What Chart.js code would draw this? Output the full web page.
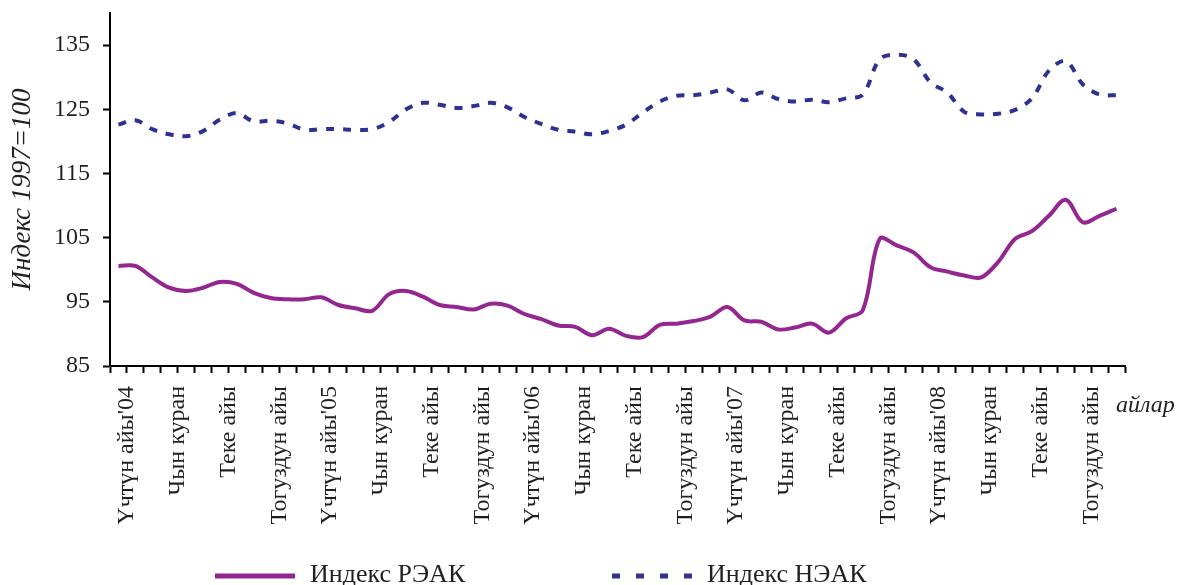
<!DOCTYPE html>
<html lang="ky">
<head>
<meta charset="utf-8">
<title>Индекс РЭАК жана НЭАК</title>
<script src="https://cdn.jsdelivr.net/npm/chart.js@4.4.1/dist/chart.umd.min.js"></script>
<style>
    html, body { margin: 0; padding: 0; background: #fff; }
    #wrap { width: 1181px; height: 585px; }
</style>
</head>
<body>
<div id="wrap"><canvas id="chartfield" width="1181" height="585"></canvas></div>
<script>
// quarter names shown under the axis (one every three months, Jan 2004 - Oct 2008)
const quarterLabels = [
    "Үчтүн айы'04", "Чын куран", "Теке айы", "Тогуздун айы",
    "Үчтүн айы'05", "Чын куран", "Теке айы", "Тогуздун айы",
    "Үчтүн айы'06", "Чын куран", "Теке айы", "Тогуздун айы",
    "Үчтүн айы'07", "Чын куран", "Теке айы", "Тогуздун айы",
    "Үчтүн айы'08", "Чын куран", "Теке айы", "Тогуздун айы",
];

// monthly index values, 1997 = 100
const reak = [
    100.6, 100.6, 98.8, 97.2, 96.7, 97.2, 98.1, 97.8, 96.4, 95.6,
    95.4, 95.4, 95.7, 94.5, 94.0, 93.6, 96.2, 96.7, 95.8, 94.5,
    94.2, 93.8, 94.7, 94.4, 93.1, 92.3, 91.3, 91.1, 89.8, 90.8,
    89.7, 89.5, 91.4, 91.6, 92.0, 92.7, 94.2, 92.1, 91.9, 90.7,
    91.0, 91.6, 90.2, 92.4, 93.7, 104.8, 103.8, 102.7, 100.4, 99.7,
    99.1, 98.8, 101.2, 104.8, 106.0, 108.4, 110.9, 107.4, 108.4, 109.5,
];
const neak = [
    122.6, 123.3, 121.9, 121.1, 120.8, 121.6, 123.4, 124.4, 123.1, 123.2,
    122.8, 121.8, 121.9, 121.9, 121.8, 121.9, 123.0, 125.0, 126.0, 125.7,
    125.2, 125.5, 126.0, 125.3, 123.8, 122.7, 121.8, 121.5, 121.1, 121.6,
    122.6, 124.5, 126.2, 127.1, 127.2, 127.6, 128.1, 126.4, 127.6, 126.6,
    126.2, 126.5, 126.1, 126.7, 127.3, 132.8, 133.5, 132.8, 129.2, 127.6,
    124.6, 124.2, 124.3, 124.9, 126.7, 131.0, 132.5, 128.9, 127.3, 127.2,
];
const yTicks = [85, 95, 105, 115, 125, 135];

// one category per month, named only at the start of each quarter
const months = reak.map((v, i) => (i % 3 === 0 ? quarterLabels[i / 3] : ""));

const serif = "'Liberation Serif', 'Times New Roman', serif";
const ink = "#231f20";

// axis caption at the right end and the legend row at the bottom
const extras = {
    id: "extras",
    afterDraw(chart) {
        const ctx = chart.ctx;
        const xs = chart.scales.x;
        ctx.save();
        ctx.fillStyle = ink;
        ctx.font = `italic 24px ${serif}`;
        ctx.textBaseline = "alphabetic";
        ctx.fillText("айлар", xs.right - 9, 412);

        const legendX = [215, 612];
        chart.data.datasets.forEach((ds, i) => {
            const x0 = legendX[i];
            ctx.strokeStyle = ds.borderColor;
            ctx.lineWidth = 5;
            ctx.setLineDash(ds.borderDash ? [8, 16] : []);
            ctx.beginPath();
            ctx.moveTo(x0, 576);
            ctx.lineTo(x0 + 80, 576);
            ctx.stroke();
            ctx.setLineDash([]);
            ctx.font = `26px ${serif}`;
            ctx.textBaseline = "middle";
            ctx.fillText(ds.label, x0 + 95, 575);
        });
        ctx.restore();
    },
};

const canvas = document.querySelector("#chartfield").getContext("2d");

new Chart(canvas, {
    type: "line",
    data: {
        labels: months,
        datasets: [
            {
                label: "Индекс РЭАК",
                data: reak,
                borderColor: "#93278f",
                borderWidth: 4,
                tension: 0.35,
                pointRadius: 0,
                fill: false,
            },
            {
                label: "Индекс НЭАК",
                data: neak,
                borderColor: "#2e3192",
                borderWidth: 4,
                borderDash: [8, 9],
                tension: 0.35,
                pointRadius: 0,
                fill: false,
            },
        ],
    },
    options: {
        responsive: false,
        animation: false,
        events: [],
        layout: { padding: { top: 13, right: 56, bottom: 0, left: 0 } },
        plugins: {
            legend: { display: false },
            tooltip: { enabled: false },
        },
        scales: {
            x: {
                offset: true,
                grid: {
                    offset: true,
                    drawOnChartArea: false,
                    drawTicks: true,
                    tickLength: 7,
                    tickWidth: 2,
                    tickColor: "#000",
                },
                border: { display: true, color: "#000", width: 2 },
                ticks: {
                    autoSkip: false,
                    minRotation: 90,
                    maxRotation: 90,
                    labelOffset: 8.5,
                    padding: 13,
                    color: ink,
                    font: { family: serif, size: 24 },
                },
                afterFit(scale) {
                    scale.height = 219;
                    scale.paddingLeft = 0;
                    scale.paddingRight = 0;
                },
            },
            y: {
                min: 85,
                max: 140,
                grid: {
                    drawOnChartArea: false,
                    drawTicks: true,
                    tickLength: 7,
                    tickWidth: 2,
                    tickColor: "#000",
                },
                border: { display: true, color: "#000", width: 2 },
                ticks: {
                    padding: 13,
                    color: ink,
                    font: { family: serif, size: 24 },
                },
                afterBuildTicks(scale) {
                    scale.ticks = yTicks.map((v) => ({ value: v }));
                },
                title: {
                    display: true,
                    text: "Индекс 1997=100",
                    color: ink,
                    padding: { top: 7, bottom: 0 },
                    font: { family: serif, size: 27, style: "italic" },
                },
                afterFit(scale) {
                    scale.width = 110;
                    scale.paddingTop = 0;
                    scale.paddingBottom = 0;
                },
            },
        },
    },
    plugins: [extras],
});
</script>
</body>
</html>
